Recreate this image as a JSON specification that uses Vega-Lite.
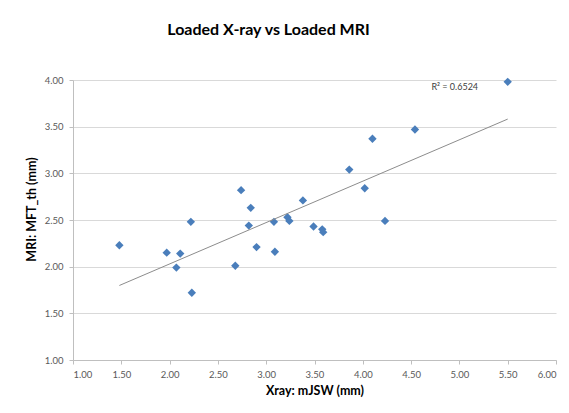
{
  "$schema": "https://vega.github.io/schema/vega-lite/v6.json",
  "width": 483,
  "height": 280,
  "autosize": "none",
  "padding": {"left": 73, "top": 80, "right": 13, "bottom": 53},
  "background": "white",
  "config": {
    "font": "Lato",
    "view": {"stroke": null}
  },
  "title": {
    "text": "Loaded X-ray vs Loaded MRI",
    "font": "Lato",
    "fontSize": 16,
    "fontWeight": "bold",
    "color": "#000000",
    "anchor": "middle",
    "dx": -46,
    "offset": 37
  },
  "data": {
    "values": [
      {"xray": 1.48, "mri": 2.23},
      {"xray": 1.97, "mri": 2.15},
      {"xray": 2.07, "mri": 1.99},
      {"xray": 2.11, "mri": 2.14},
      {"xray": 2.22, "mri": 2.48},
      {"xray": 2.23, "mri": 1.72},
      {"xray": 2.68, "mri": 2.01},
      {"xray": 2.74, "mri": 2.82},
      {"xray": 2.82, "mri": 2.44},
      {"xray": 2.84, "mri": 2.63},
      {"xray": 2.90, "mri": 2.21},
      {"xray": 3.08, "mri": 2.48},
      {"xray": 3.09, "mri": 2.16},
      {"xray": 3.22, "mri": 2.53},
      {"xray": 3.24, "mri": 2.49},
      {"xray": 3.38, "mri": 2.71},
      {"xray": 3.49, "mri": 2.43},
      {"xray": 3.58, "mri": 2.40},
      {"xray": 3.59, "mri": 2.37},
      {"xray": 3.86, "mri": 3.04},
      {"xray": 4.02, "mri": 2.84},
      {"xray": 4.10, "mri": 3.37},
      {"xray": 4.23, "mri": 2.49},
      {"xray": 4.54, "mri": 3.47},
      {"xray": 5.50, "mri": 3.98}
    ]
  },
  "encoding": {
    "x": {
      "field": "xray",
      "type": "quantitative",
      "scale": {"domain": [1, 6], "nice": false, "zero": false},
      "axis": {
        "title": "Xray: mJSW (mm)",
        "values": [1, 1.5, 2, 2.5, 3, 3.5, 4, 4.5, 5, 5.5, 6],
        "format": ".2f",
        "grid": false,
        "domainColor": "#bfbfbf",
        "tickColor": "#bfbfbf",
        "tickSize": 4,
        "labelColor": "#595959",
        "labelFontSize": 9.5,
        "labelPadding": 5,
        "titleFontSize": 12.5,
        "titleFontWeight": "bold",
        "titleColor": "#000000",
        "titlePadding": 6
      }
    },
    "y": {
      "field": "mri",
      "type": "quantitative",
      "scale": {"domain": [1, 4], "nice": false, "zero": false},
      "axis": {
        "title": "MRI: MFT_th (mm)",
        "values": [1, 1.5, 2, 2.5, 3, 3.5, 4],
        "format": ".2f",
        "grid": true,
        "gridColor": "#d9d9d9",
        "domainColor": "#bfbfbf",
        "tickColor": "#bfbfbf",
        "tickSize": 4,
        "labelColor": "#595959",
        "labelFontSize": 9.5,
        "labelPadding": 6,
        "titleFontSize": 12.5,
        "titleFontWeight": "bold",
        "titleColor": "#000000",
        "titlePadding": 6,
        "titleY": 129
      }
    }
  },
  "layer": [
    {
      "mark": {"type": "point", "shape": "diamond", "filled": true, "size": 70, "color": "#4a7ebb", "opacity": 1}
    },
    {
      "mark": {"type": "line", "color": "#8c8c8c", "strokeWidth": 1},
      "transform": [{"regression": "mri", "on": "xray", "method": "linear"}],
      "encoding": {}
    },
    {
      "data": {"values": [{"xray": 4.71, "mri": 3.92, "label": "R² = 0.6524"}]},
      "mark": {"type": "text", "align": "left", "baseline": "middle", "fontSize": 9, "color": "#404040"},
      "encoding": {"text": {"field": "label"}}
    }
  ]
}
